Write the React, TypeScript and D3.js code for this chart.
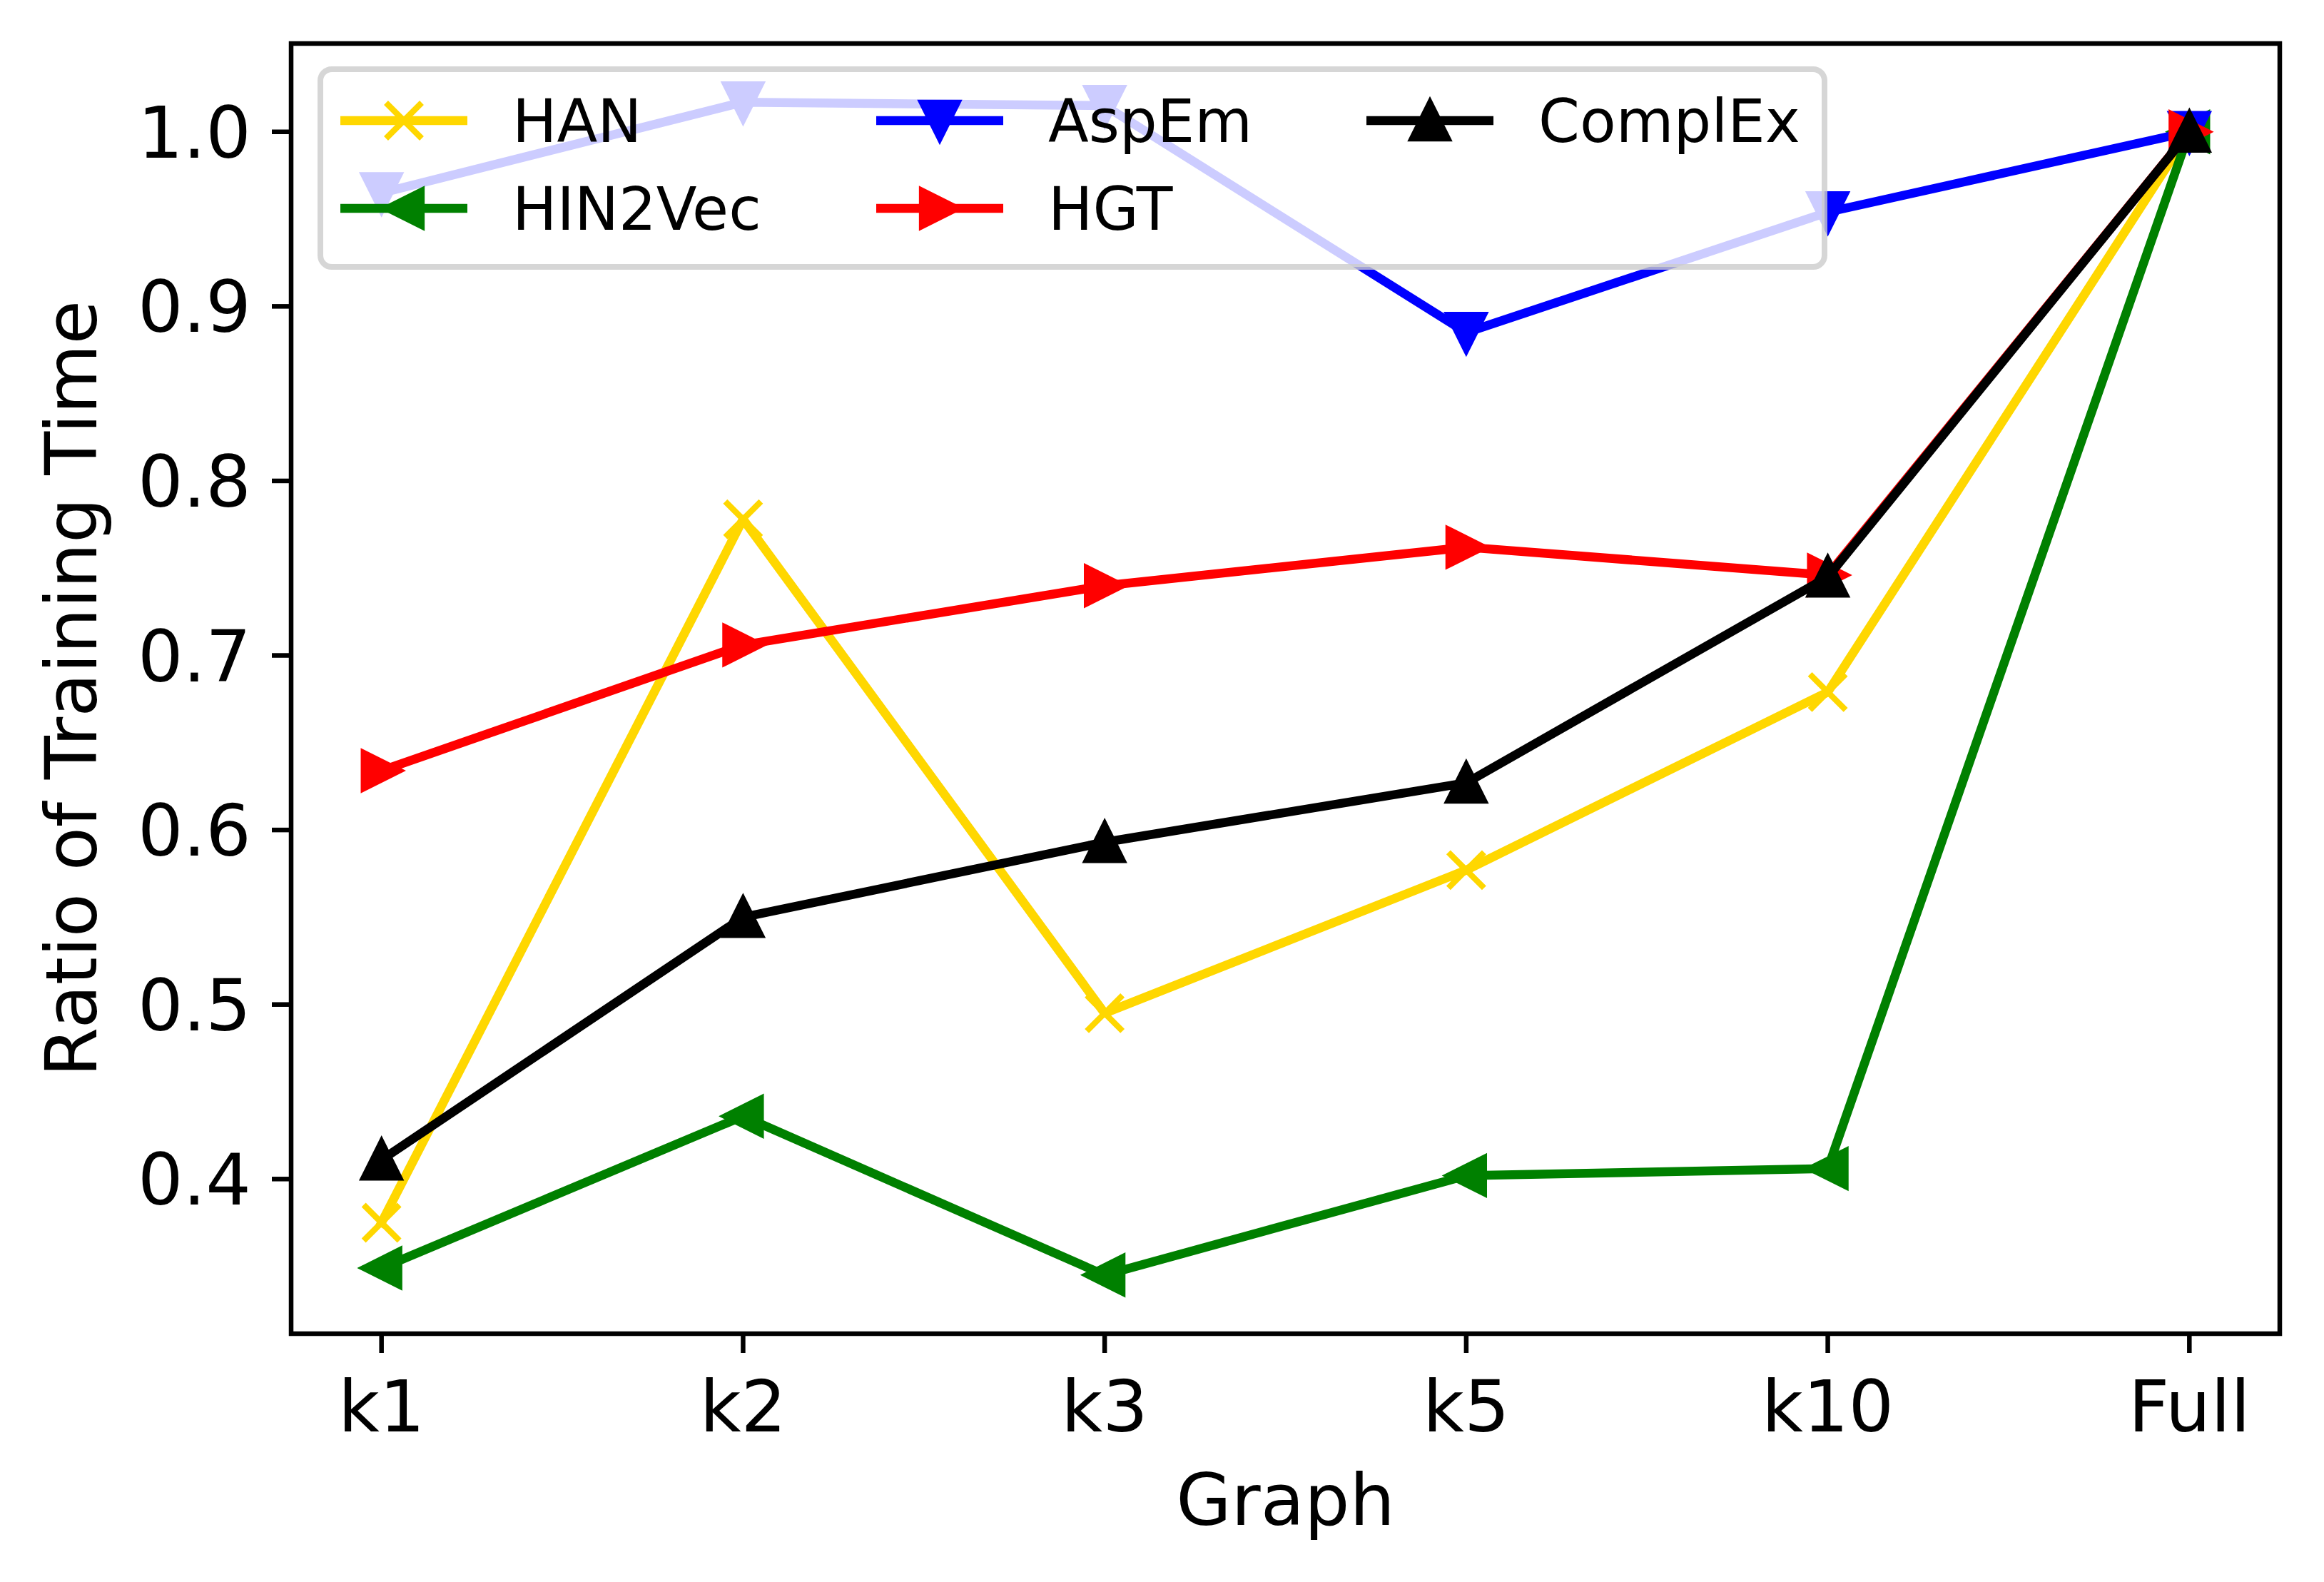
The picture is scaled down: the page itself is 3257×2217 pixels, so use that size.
import * as d3 from "d3";

const categories = ["k1", "k2", "k3", "k5", "k10", "Full"];
const hanValues = [0.375, 0.778, 0.495, 0.577, 0.679, 1.0];
const hin2vecValues = [0.349, 0.436, 0.345, 0.402, 0.406, 1.0];
const aspemValues = [0.965, 1.017, 1.015, 0.885, 0.954, 1.0];
const hgtValues = [0.634, 0.706, 0.74, 0.762, 0.746, 1.0];
const complexValues = [0.411, 0.55, 0.593, 0.627, 0.745, 1.0];
const yTicks = [0.4, 0.5, 0.6, 0.7, 0.8, 0.9, 1.0];

type Marker = "x" | "<" | "v" | ">" | "^";

const series: { name: string; values: number[]; color: string; marker: Marker }[] = [
  { name: "HAN", values: hanValues, color: "#ffd700", marker: "x" },
  { name: "HIN2Vec", values: hin2vecValues, color: "#008000", marker: "<" },
  { name: "AspEm", values: aspemValues, color: "#0000ff", marker: "v" },
  { name: "HGT", values: hgtValues, color: "#ff0000", marker: ">" },
  { name: "ComplEx", values: complexValues, color: "#000000", marker: "^" },
];

const W = 3257;
const H = 2217;
const m = { left: 408, right: W - 3195, top: 61, bottom: H - 1869 };
const FONT = "'DejaVu Sans', sans-serif";
const LW = 12.5; // line width
const MEW = 8.3; // marker edge width
const MS = 25; // half marker size

function markerPath(mk: Marker, h = MS) {
  switch (mk) {
    case "^":
      return `M0,${-h}L${-h},${h}L${h},${h}Z`;
    case "v":
      return `M0,${h}L${-h},${-h}L${h},${-h}Z`;
    case "<":
      return `M${-h},0L${h},${-h}L${h},${h}Z`;
    case ">":
      return `M${h},0L${-h},${-h}L${-h},${h}Z`;
    default:
      return `M${-h},${-h}L${h},${h}M${-h},${h}L${h},${-h}`;
  }
}

function MarkerShape({ mk, color, x, y }: { mk: Marker; color: string; x: number; y: number }) {
  const filled = mk !== "x";
  return (
    <path
      d={markerPath(mk)}
      transform={`translate(${x},${y})`}
      fill={filled ? color : "none"}
      stroke={color}
      strokeWidth={MEW}
      strokeLinejoin="miter"
    />
  );
}

export default function App() {
  const x0 = m.left;
  const x1 = W - m.right;
  const y0 = H - m.bottom;
  const y1 = m.top;

  const x = d3.scalePoint<string>().domain(categories).range([x0, x1]).padding(0.25);

  const all = series.flatMap((s) => s.values);
  const [lo, hi] = d3.extent(all) as [number, number];
  const pad = (hi - lo) * 0.05;
  const y = d3.scaleLinear().domain([lo - pad, hi + pad]).range([y0, y1]);

  const line = d3
    .line<number>()
    .x((_, i) => x(categories[i])!)
    .y((d) => y(d));

  // legend layout (3 columns, column-major like matplotlib ncol=3)
  const legCols = [477, 1228, 1915];
  const legRows = [169, 292];
  const handleLen = 178;
  const textGap = 63;

  return (
    <svg
      width={W}
      height={H}
      viewBox={`0 0 ${W} ${H}`}
      style={{ position: "absolute", left: 0, top: 0, background: "#fff" }}
      fontFamily={FONT}
    >
      <rect x={0} y={0} width={W} height={H} fill="#fff" />
      <defs>
        <clipPath id="plot-clip">
          <rect x={x0} y={y1} width={x1 - x0} height={y0 - y1} />
        </clipPath>
      </defs>

      {/* series */}
      <g clipPath="url(#plot-clip)">
        {series.map((s) => (
          <g key={s.name}>
            <path d={line(s.values) ?? ""} fill="none" stroke={s.color} strokeWidth={LW} strokeLinejoin="round" strokeLinecap="square" />
            {s.values.map((v, i) => (
              <MarkerShape key={i} mk={s.marker} color={s.color} x={x(categories[i])!} y={y(v)} />
            ))}
          </g>
        ))}
      </g>

      {/* legend */}
      <g>
        <rect x={449} y={97} width={2108} height={277} rx={16} ry={16} fill="#fff" fillOpacity={0.8} stroke="#cccccc" strokeOpacity={0.8} strokeWidth={8} />
        {series.map((s, i) => {
          const col = Math.floor(i / 2);
          const row = i % 2;
          const lx = legCols[col];
          const ly = legRows[row];
          return (
            <g key={s.name}>
              <line x1={lx} x2={lx + handleLen} y1={ly} y2={ly} stroke={s.color} strokeWidth={LW} />
              <MarkerShape mk={s.marker} color={s.color} x={lx + handleLen / 2} y={ly} />
              <text x={lx + handleLen + textGap} y={ly + 30} fontSize={83} fill="#000">
                {s.name}
              </text>
            </g>
          );
        })}
      </g>

      {/* spines */}
      <rect x={x0} y={y1} width={x1 - x0} height={y0 - y1} fill="none" stroke="#000" strokeWidth={6.5} />

      {/* x axis ticks */}
      {categories.map((c) => (
        <g key={c}>
          <line x1={x(c)!} x2={x(c)!} y1={y0} y2={y0 + 27} stroke="#000" strokeWidth={6.5} />
          <text x={x(c)!} y={2006} fontSize={100} textAnchor="middle" fill="#000">
            {c}
          </text>
        </g>
      ))}

      {/* y axis ticks */}
      {yTicks.map((t) => (
        <g key={t}>
          <line x1={x0 - 27} x2={x0} y1={y(t)} y2={y(t)} stroke="#000" strokeWidth={6.5} />
          <text x={352} y={y(t) + 36} fontSize={100} textAnchor="end" fill="#000">
            {d3.format(".1f")(t)}
          </text>
        </g>
      ))}

      {/* axis labels */}
      <text x={(x0 + x1) / 2} y={2137} fontSize={100} textAnchor="middle" fill="#000">
        Graph
      </text>
      <text
        transform={`translate(135,${(y0 + y1) / 2}) rotate(-90)`}
        fontSize={100}
        textAnchor="middle"
        fill="#000"
      >
        Ratio of Training Time
      </text>
    </svg>
  );
}
